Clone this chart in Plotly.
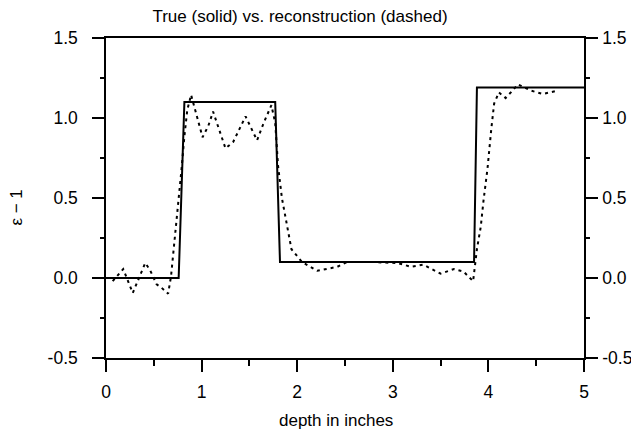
import plotly.graph_objects as go

# True profile (solid)
x_true = [0.0, 0.76, 0.82, 1.77, 1.82, 3.85, 3.88, 5.0]
y_true = [0.0, 0.0, 1.10, 1.10, 0.10, 0.10, 1.19, 1.19]

# Reconstruction (dashed)
x_rec = [0.07, 0.18, 0.28, 0.41, 0.46, 0.53, 0.58, 0.65, 0.68, 0.72, 0.75, 0.79,
         0.82, 0.85, 0.89, 0.94, 1.01, 1.07, 1.12, 1.25, 1.33, 1.46, 1.58, 1.65,
         1.73, 1.77, 1.80, 1.84, 1.89, 1.94, 2.05, 2.21, 2.42, 2.52, 2.77, 3.05,
         3.19, 3.32, 3.50, 3.64, 3.74, 3.84, 3.88, 3.92, 3.95, 3.99, 4.03, 4.06,
         4.11, 4.18, 4.25, 4.31, 4.45, 4.57, 4.64, 4.72]
y_rec = [-0.02, 0.056, -0.094, 0.094, 0.05, -0.04, -0.06, -0.098, 0.01, 0.24, 0.45, 0.68,
         0.885, 1.05, 1.145, 1.04, 0.88, 0.95, 1.04, 0.81, 0.85, 1.01, 0.86, 0.97,
         1.08, 0.97, 0.70, 0.50, 0.34, 0.18, 0.10, 0.045, 0.07, 0.10, 0.10, 0.094,
         0.07, 0.083, 0.027, 0.056, 0.04, -0.02, 0.18, 0.32, 0.49, 0.68, 0.93, 1.09,
         1.16, 1.125, 1.17, 1.21, 1.17, 1.15, 1.16, 1.17]

x_ticks = [0, 1, 2, 3, 4, 5]
x_ticktext = ["0", "1", "2", "3", "4", "5"]
y_ticks = [-0.5, 0.0, 0.5, 1.0, 1.5]
y_ticktext = ["-0.5", "0.0", "0.5", "1.0", "1.5"]

title_text = "True (solid) vs. reconstruction (dashed)"
x_title = "depth in inches"
y_title = "ε − 1"

FONT = "Liberation Sans, Arial, Helvetica, sans-serif"

fig = go.Figure()
fig.add_trace(go.Scatter(x=x_true, y=y_true, mode="lines",
                         line=dict(color="black", width=2), showlegend=False))
fig.add_trace(go.Scatter(x=x_rec, y=y_rec, mode="lines",
                         line=dict(color="black", width=2, dash="3px,4px"), showlegend=False))
# invisible trace for right axis
fig.add_trace(go.Scatter(x=[0], y=[0], yaxis="y2", mode="markers",
                         marker=dict(opacity=0), showlegend=False, hoverinfo="skip"))

axis_common = dict(showgrid=False, zeroline=False, showline=True, linecolor="black",
                   linewidth=1.5, ticks="outside", tickcolor="black", tickwidth=1.5,
                   automargin=False,
                   tickfont=dict(family=FONT, size=17.5, color="black"))

fig.update_layout(
    width=639, height=436,
    margin=dict(l=98, r=63, t=30, b=86),
    paper_bgcolor="white", plot_bgcolor="white",
    font=dict(family=FONT, size=17, color="black"),
    title=dict(text=title_text, x=292 / 639, xanchor="center", y=1 - 8.5 / 436, yanchor="middle",
               font=dict(family=FONT, size=17, color="black")),
    xaxis=dict(range=[0, 5], tickvals=x_ticks, ticktext=x_ticktext, ticklen=12,
               mirror=True, ticklabelstandoff=5,
               minor=dict(dtick=0.5, ticks="outside", ticklen=6, tickcolor="black", tickwidth=1.5),
               **axis_common),
    yaxis=dict(range=[-0.5, 1.5], tickvals=y_ticks, ticktext=y_ticktext, ticklen=12,
               ticklabelstandoff=11,
               minor=dict(dtick=0.25, ticks="outside", ticklen=4, tickcolor="black", tickwidth=1.5),
               **axis_common),
    yaxis2=dict(range=[-0.5, 1.5], tickvals=y_ticks, ticktext=y_ticktext, ticklen=12,
                overlaying="y", side="right", ticklabelstandoff=1,
                minor=dict(dtick=0.25, ticks="outside", ticklen=4, tickcolor="black", tickwidth=1.5),
                **axis_common),
    annotations=[
        dict(text=x_title, xref="paper", yref="paper", x=0.482, y=-62 / 320,
             xanchor="center", yanchor="middle", showarrow=False,
             font=dict(family=FONT, size=17, color="black")),
        dict(text=y_title, xref="paper", yref="paper", x=(9 - 98) / 478, y=0.47,
             xanchor="center", yanchor="middle", textangle=-90, showarrow=False,
             font=dict(family=FONT, size=17, color="black")),
    ],
)

fig.write_html("out.html")
